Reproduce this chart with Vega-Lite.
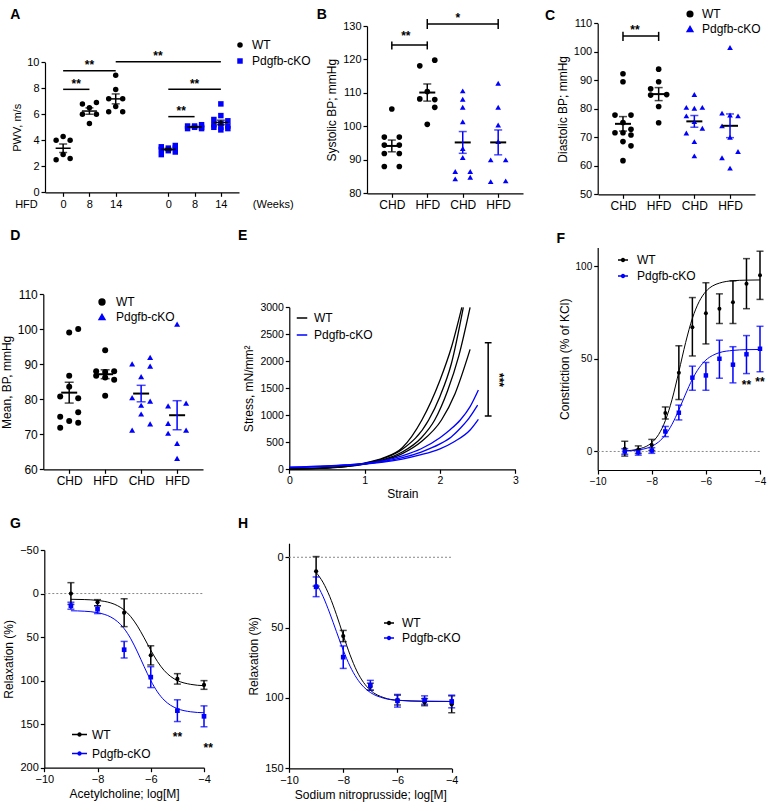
{
"$schema": "https://vega.github.io/schema/vega-lite/v6.json",
"width": 768, "height": 811, "autosize": {"type": "none"}, "padding": 0, "background": "white",
"config": {
  "font": "Liberation Sans",
  "view": {"stroke": null},
  "axis": {"grid": false, "domainColor": "#000", "tickColor": "#000", "labelColor": "#000", "titleColor": "#000", "labelFontSize": 11, "titleFontSize": 12, "titleFontWeight": "normal", "domainWidth": 1.2, "tickWidth": 1.2, "tickSize": 4, "labelPadding": 2, "labelFlush": false, "labelFont": "Liberation Sans", "titleFont": "Liberation Sans"},
  "legend": {"labelFont": "Liberation Sans", "labelFontSize": 12, "padding": 0, "labelColor": "#000"}
},
"datasets": {
  "A": [
    {"grp":"WT0","g":"WT","v":4.3,"col":0},{"grp":"WT0","g":"WT","v":4.0,"col":-1},{"grp":"WT0","g":"WT","v":4.0,"col":1},{"grp":"WT0","g":"WT","v":2.9,"col":0},{"grp":"WT0","g":"WT","v":2.5,"col":-1},{"grp":"WT0","g":"WT","v":2.6,"col":1},
    {"grp":"WT8","g":"WT","v":6.8,"col":-1},{"grp":"WT8","g":"WT","v":6.9,"col":1},{"grp":"WT8","g":"WT","v":6.5,"col":0},{"grp":"WT8","g":"WT","v":6.0,"col":-1},{"grp":"WT8","g":"WT","v":6.0,"col":1},{"grp":"WT8","g":"WT","v":5.3,"col":0},
    {"grp":"WT14","g":"WT","v":9.0,"col":0},{"grp":"WT14","g":"WT","v":7.9,"col":0},{"grp":"WT14","g":"WT","v":7.2,"col":-1},{"grp":"WT14","g":"WT","v":7.2,"col":1},{"grp":"WT14","g":"WT","v":6.6,"col":0},{"grp":"WT14","g":"WT","v":6.2,"col":-1},{"grp":"WT14","g":"WT","v":6.2,"col":1},
    {"grp":"KO0","g":"Pdgfb-cKO","v":3.6,"col":1},{"grp":"KO0","g":"Pdgfb-cKO","v":3.5,"col":-1},{"grp":"KO0","g":"Pdgfb-cKO","v":3.4,"col":0},{"grp":"KO0","g":"Pdgfb-cKO","v":3.4,"col":1},{"grp":"KO0","g":"Pdgfb-cKO","v":3.3,"col":-1},{"grp":"KO0","g":"Pdgfb-cKO","v":3.2,"col":0},{"grp":"KO0","g":"Pdgfb-cKO","v":3.1,"col":1},{"grp":"KO0","g":"Pdgfb-cKO","v":2.9,"col":-1},
    {"grp":"KO8","g":"Pdgfb-cKO","v":5.2,"col":1},{"grp":"KO8","g":"Pdgfb-cKO","v":5.1,"col":-1},{"grp":"KO8","g":"Pdgfb-cKO","v":5.0,"col":0},{"grp":"KO8","g":"Pdgfb-cKO","v":5.0,"col":1},{"grp":"KO8","g":"Pdgfb-cKO","v":4.9,"col":-1},{"grp":"KO8","g":"Pdgfb-cKO","v":5.1,"col":0},{"grp":"KO8","g":"Pdgfb-cKO","v":4.9,"col":1},
    {"grp":"KO14","g":"Pdgfb-cKO","v":6.8,"col":0},{"grp":"KO14","g":"Pdgfb-cKO","v":5.9,"col":0},{"grp":"KO14","g":"Pdgfb-cKO","v":5.6,"col":-1},{"grp":"KO14","g":"Pdgfb-cKO","v":5.5,"col":1},{"grp":"KO14","g":"Pdgfb-cKO","v":5.3,"col":0},{"grp":"KO14","g":"Pdgfb-cKO","v":5.2,"col":-1},{"grp":"KO14","g":"Pdgfb-cKO","v":5.1,"col":1},{"grp":"KO14","g":"Pdgfb-cKO","v":5.0,"col":0},{"grp":"KO14","g":"Pdgfb-cKO","v":5.0,"col":-1},{"grp":"KO14","g":"Pdgfb-cKO","v":4.9,"col":1},{"grp":"KO14","g":"Pdgfb-cKO","v":4.8,"col":0}
  ],
  "B": [
    {"grp":"WT CHD","g":"WT","v":105.2,"col":0},{"grp":"WT CHD","g":"WT","v":96.8,"col":-1},{"grp":"WT CHD","g":"WT","v":96.8,"col":1},{"grp":"WT CHD","g":"WT","v":94.4,"col":-1},{"grp":"WT CHD","g":"WT","v":94.4,"col":1},{"grp":"WT CHD","g":"WT","v":91.9,"col":-1},{"grp":"WT CHD","g":"WT","v":91.9,"col":1},{"grp":"WT CHD","g":"WT","v":88.0,"col":-1},{"grp":"WT CHD","g":"WT","v":88.0,"col":1},
    {"grp":"WT HFD","g":"WT","v":118.1,"col":-1},{"grp":"WT HFD","g":"WT","v":119.8,"col":1},{"grp":"WT HFD","g":"WT","v":110.4,"col":0},{"grp":"WT HFD","g":"WT","v":108.2,"col":-1},{"grp":"WT HFD","g":"WT","v":108.0,"col":1},{"grp":"WT HFD","g":"WT","v":105.7,"col":1},{"grp":"WT HFD","g":"WT","v":100.6,"col":0},
    {"grp":"KO CHD","g":"Pdgfb-cKO","v":110.6,"col":0},{"grp":"KO CHD","g":"Pdgfb-cKO","v":108.1,"col":0},{"grp":"KO CHD","g":"Pdgfb-cKO","v":105.7,"col":0},{"grp":"KO CHD","g":"Pdgfb-cKO","v":101.4,"col":0},{"grp":"KO CHD","g":"Pdgfb-cKO","v":93.4,"col":0},{"grp":"KO CHD","g":"Pdgfb-cKO","v":90.7,"col":0},{"grp":"KO CHD","g":"Pdgfb-cKO","v":86.5,"col":-1},{"grp":"KO CHD","g":"Pdgfb-cKO","v":86.5,"col":1},{"grp":"KO CHD","g":"Pdgfb-cKO","v":84.3,"col":-1},{"grp":"KO CHD","g":"Pdgfb-cKO","v":84.8,"col":1},
    {"grp":"KO HFD","g":"Pdgfb-cKO","v":112.9,"col":0},{"grp":"KO HFD","g":"Pdgfb-cKO","v":105.7,"col":0},{"grp":"KO HFD","g":"Pdgfb-cKO","v":100.4,"col":0},{"grp":"KO HFD","g":"Pdgfb-cKO","v":95.5,"col":0},{"grp":"KO HFD","g":"Pdgfb-cKO","v":90.0,"col":-1},{"grp":"KO HFD","g":"Pdgfb-cKO","v":90.0,"col":1},{"grp":"KO HFD","g":"Pdgfb-cKO","v":83.5,"col":-1},{"grp":"KO HFD","g":"Pdgfb-cKO","v":83.7,"col":1}
  ],
  "C": [
    {"grp":"WT CHD","g":"WT","v":92.3,"col":0},{"grp":"WT CHD","g":"WT","v":89.5,"col":0},{"grp":"WT CHD","g":"WT","v":77.8,"col":-1},{"grp":"WT CHD","g":"WT","v":77.8,"col":1},{"grp":"WT CHD","g":"WT","v":75.2,"col":0},{"grp":"WT CHD","g":"WT","v":72.8,"col":1},{"grp":"WT CHD","g":"WT","v":71.6,"col":-1},{"grp":"WT CHD","g":"WT","v":71.6,"col":0},{"grp":"WT CHD","g":"WT","v":70.8,"col":1},{"grp":"WT CHD","g":"WT","v":68.5,"col":0},{"grp":"WT CHD","g":"WT","v":67.0,"col":1},{"grp":"WT CHD","g":"WT","v":61.8,"col":0},
    {"grp":"WT HFD","g":"WT","v":93.9,"col":0},{"grp":"WT HFD","g":"WT","v":89.5,"col":0},{"grp":"WT HFD","g":"WT","v":87.0,"col":-1},{"grp":"WT HFD","g":"WT","v":85.0,"col":1},{"grp":"WT HFD","g":"WT","v":84.8,"col":-1},{"grp":"WT HFD","g":"WT","v":80.8,"col":0},{"grp":"WT HFD","g":"WT","v":75.1,"col":0},
    {"grp":"KO CHD","g":"Pdgfb-cKO","v":85.0,"col":0},{"grp":"KO CHD","g":"Pdgfb-cKO","v":80.5,"col":-1},{"grp":"KO CHD","g":"Pdgfb-cKO","v":80.2,"col":0},{"grp":"KO CHD","g":"Pdgfb-cKO","v":80.5,"col":1},{"grp":"KO CHD","g":"Pdgfb-cKO","v":77.5,"col":-1},{"grp":"KO CHD","g":"Pdgfb-cKO","v":75.5,"col":0},{"grp":"KO CHD","g":"Pdgfb-cKO","v":73.2,"col":1},{"grp":"KO CHD","g":"Pdgfb-cKO","v":71.5,"col":-1},{"grp":"KO CHD","g":"Pdgfb-cKO","v":68.5,"col":0},{"grp":"KO CHD","g":"Pdgfb-cKO","v":63.5,"col":0},
    {"grp":"KO HFD","g":"Pdgfb-cKO","v":101.5,"col":0},{"grp":"KO HFD","g":"Pdgfb-cKO","v":78.5,"col":-1},{"grp":"KO HFD","g":"Pdgfb-cKO","v":77.8,"col":0},{"grp":"KO HFD","g":"Pdgfb-cKO","v":77.5,"col":1},{"grp":"KO HFD","g":"Pdgfb-cKO","v":74.0,"col":-1},{"grp":"KO HFD","g":"Pdgfb-cKO","v":70.0,"col":0},{"grp":"KO HFD","g":"Pdgfb-cKO","v":65.0,"col":1},{"grp":"KO HFD","g":"Pdgfb-cKO","v":62.8,"col":-1},{"grp":"KO HFD","g":"Pdgfb-cKO","v":59.2,"col":0}
  ],
  "D": [
    {"grp":"WT CHD","g":"WT","v":100.1,"col":1},{"grp":"WT CHD","g":"WT","v":99.1,"col":0},{"grp":"WT CHD","g":"WT","v":86.7,"col":0},{"grp":"WT CHD","g":"WT","v":83.6,"col":0},{"grp":"WT CHD","g":"WT","v":80.8,"col":-1},{"grp":"WT CHD","g":"WT","v":80.3,"col":1},{"grp":"WT CHD","g":"WT","v":76.3,"col":1},{"grp":"WT CHD","g":"WT","v":75.0,"col":-1},{"grp":"WT CHD","g":"WT","v":73.8,"col":0},{"grp":"WT CHD","g":"WT","v":73.3,"col":1},{"grp":"WT CHD","g":"WT","v":71.9,"col":-1},
    {"grp":"WT HFD","g":"WT","v":94.0,"col":0},{"grp":"WT HFD","g":"WT","v":88.0,"col":-1},{"grp":"WT HFD","g":"WT","v":88.0,"col":1},{"grp":"WT HFD","g":"WT","v":87.8,"col":0},{"grp":"WT HFD","g":"WT","v":86.7,"col":-1},{"grp":"WT HFD","g":"WT","v":86.2,"col":0},{"grp":"WT HFD","g":"WT","v":85.6,"col":1},{"grp":"WT HFD","g":"WT","v":81.0,"col":0},
    {"grp":"KO CHD","g":"Pdgfb-cKO","v":92.0,"col":1},{"grp":"KO CHD","g":"Pdgfb-cKO","v":90.1,"col":-1},{"grp":"KO CHD","g":"Pdgfb-cKO","v":89.5,"col":1},{"grp":"KO CHD","g":"Pdgfb-cKO","v":86.5,"col":0},{"grp":"KO CHD","g":"Pdgfb-cKO","v":80.5,"col":-1},{"grp":"KO CHD","g":"Pdgfb-cKO","v":79.5,"col":1},{"grp":"KO CHD","g":"Pdgfb-cKO","v":78.3,"col":0},{"grp":"KO CHD","g":"Pdgfb-cKO","v":75.8,"col":0},{"grp":"KO CHD","g":"Pdgfb-cKO","v":73.0,"col":1},{"grp":"KO CHD","g":"Pdgfb-cKO","v":71.2,"col":-1},
    {"grp":"KO HFD","g":"Pdgfb-cKO","v":101.5,"col":0},{"grp":"KO HFD","g":"Pdgfb-cKO","v":78.9,"col":1},{"grp":"KO HFD","g":"Pdgfb-cKO","v":78.1,"col":-1},{"grp":"KO HFD","g":"Pdgfb-cKO","v":73.1,"col":-1},{"grp":"KO HFD","g":"Pdgfb-cKO","v":71.2,"col":1},{"grp":"KO HFD","g":"Pdgfb-cKO","v":70.3,"col":-1},{"grp":"KO HFD","g":"Pdgfb-cKO","v":67.4,"col":0},{"grp":"KO HFD","g":"Pdgfb-cKO","v":63.1,"col":0}
  ],
  "E": [
    {"id":"w1","g":"WT","s":0,"t":5},{"id":"w1","g":"WT","s":0.5,"t":30},{"id":"w1","g":"WT","s":0.75,"t":60},{"id":"w1","g":"WT","s":1,"t":115},{"id":"w1","g":"WT","s":1.25,"t":210},{"id":"w1","g":"WT","s":1.5,"t":400},{"id":"w1","g":"WT","s":1.76,"t":913},{"id":"w1","g":"WT","s":2,"t":1650},{"id":"w1","g":"WT","s":2.15,"t":2250},{"id":"w1","g":"WT","s":2.29,"t":3000},
    {"id":"w2","g":"WT","s":0,"t":5},{"id":"w2","g":"WT","s":0.5,"t":28},{"id":"w2","g":"WT","s":0.75,"t":58},{"id":"w2","g":"WT","s":1,"t":110},{"id":"w2","g":"WT","s":1.25,"t":200},{"id":"w2","g":"WT","s":1.5,"t":370},{"id":"w2","g":"WT","s":1.85,"t":913},{"id":"w2","g":"WT","s":2,"t":1350},{"id":"w2","g":"WT","s":2.15,"t":1950},{"id":"w2","g":"WT","s":2.31,"t":3000},
    {"id":"w3","g":"WT","s":0,"t":3},{"id":"w3","g":"WT","s":0.5,"t":25},{"id":"w3","g":"WT","s":0.75,"t":52},{"id":"w3","g":"WT","s":1,"t":100},{"id":"w3","g":"WT","s":1.25,"t":180},{"id":"w3","g":"WT","s":1.5,"t":320},{"id":"w3","g":"WT","s":1.75,"t":580},{"id":"w3","g":"WT","s":1.93,"t":913},{"id":"w3","g":"WT","s":2.1,"t":1450},{"id":"w3","g":"WT","s":2.25,"t":2100},{"id":"w3","g":"WT","s":2.4,"t":3000},
    {"id":"w4","g":"WT","s":0,"t":3},{"id":"w4","g":"WT","s":0.5,"t":22},{"id":"w4","g":"WT","s":0.75,"t":48},{"id":"w4","g":"WT","s":1,"t":95},{"id":"w4","g":"WT","s":1.25,"t":165},{"id":"w4","g":"WT","s":1.5,"t":290},{"id":"w4","g":"WT","s":1.75,"t":510},{"id":"w4","g":"WT","s":2.02,"t":913},{"id":"w4","g":"WT","s":2.2,"t":1400},{"id":"w4","g":"WT","s":2.4,"t":2220},
    {"id":"k1","g":"Pdgfb-cKO","s":0,"t":40},{"id":"k1","g":"Pdgfb-cKO","s":0.5,"t":62},{"id":"k1","g":"Pdgfb-cKO","s":0.75,"t":82},{"id":"k1","g":"Pdgfb-cKO","s":1,"t":108},{"id":"k1","g":"Pdgfb-cKO","s":1.25,"t":160},{"id":"k1","g":"Pdgfb-cKO","s":1.5,"t":250},{"id":"k1","g":"Pdgfb-cKO","s":1.75,"t":380},{"id":"k1","g":"Pdgfb-cKO","s":2,"t":585},{"id":"k1","g":"Pdgfb-cKO","s":2.13,"t":728},{"id":"k1","g":"Pdgfb-cKO","s":2.27,"t":913},{"id":"k1","g":"Pdgfb-cKO","s":2.4,"t":1160},{"id":"k1","g":"Pdgfb-cKO","s":2.51,"t":1469},
    {"id":"k2","g":"Pdgfb-cKO","s":0,"t":35},{"id":"k2","g":"Pdgfb-cKO","s":0.5,"t":58},{"id":"k2","g":"Pdgfb-cKO","s":0.75,"t":78},{"id":"k2","g":"Pdgfb-cKO","s":1,"t":102},{"id":"k2","g":"Pdgfb-cKO","s":1.25,"t":145},{"id":"k2","g":"Pdgfb-cKO","s":1.5,"t":215},{"id":"k2","g":"Pdgfb-cKO","s":1.75,"t":320},{"id":"k2","g":"Pdgfb-cKO","s":2,"t":470},{"id":"k2","g":"Pdgfb-cKO","s":2.15,"t":600},{"id":"k2","g":"Pdgfb-cKO","s":2.27,"t":760},{"id":"k2","g":"Pdgfb-cKO","s":2.36,"t":900},{"id":"k2","g":"Pdgfb-cKO","s":2.5,"t":1190},
    {"id":"k3","g":"Pdgfb-cKO","s":0,"t":30},{"id":"k3","g":"Pdgfb-cKO","s":0.5,"t":55},{"id":"k3","g":"Pdgfb-cKO","s":0.75,"t":75},{"id":"k3","g":"Pdgfb-cKO","s":1,"t":98},{"id":"k3","g":"Pdgfb-cKO","s":1.25,"t":135},{"id":"k3","g":"Pdgfb-cKO","s":1.5,"t":190},{"id":"k3","g":"Pdgfb-cKO","s":1.75,"t":270},{"id":"k3","g":"Pdgfb-cKO","s":2,"t":380},{"id":"k3","g":"Pdgfb-cKO","s":2.2,"t":520},{"id":"k3","g":"Pdgfb-cKO","s":2.4,"t":728},{"id":"k3","g":"Pdgfb-cKO","s":2.51,"t":926}
  ],
  "Fc": [
    {"g":"WT","x":-9,"y":0.3},{"g":"WT","x":-8.5,"y":1.3},{"g":"WT","x":-8,"y":4.8},{"g":"WT","x":-7.75,"y":9.1},{"g":"WT","x":-7.5,"y":16.6},{"g":"WT","x":-7.25,"y":28.1},{"g":"WT","x":-7,"y":43.0},{"g":"WT","x":-6.75,"y":58.7},{"g":"WT","x":-6.5,"y":71.8},{"g":"WT","x":-6.25,"y":80.8},{"g":"WT","x":-6,"y":86.3},{"g":"WT","x":-5.75,"y":89.3},{"g":"WT","x":-5.5,"y":90.8},{"g":"WT","x":-5,"y":92.1},{"g":"WT","x":-4.5,"y":92.4},{"g":"WT","x":-4,"y":92.5},
    {"g":"Pdgfb-cKO","x":-9,"y":0.2},{"g":"Pdgfb-cKO","x":-8.5,"y":0.8},{"g":"Pdgfb-cKO","x":-8,"y":2.8},{"g":"Pdgfb-cKO","x":-7.75,"y":5.1},{"g":"Pdgfb-cKO","x":-7.5,"y":8.9},{"g":"Pdgfb-cKO","x":-7.25,"y":14.7},{"g":"Pdgfb-cKO","x":-7,"y":22.4},{"g":"Pdgfb-cKO","x":-6.75,"y":31.0},{"g":"Pdgfb-cKO","x":-6.5,"y":39.0},{"g":"Pdgfb-cKO","x":-6.25,"y":45.1},{"g":"Pdgfb-cKO","x":-6,"y":49.3},{"g":"Pdgfb-cKO","x":-5.75,"y":51.8},{"g":"Pdgfb-cKO","x":-5.5,"y":53.3},{"g":"Pdgfb-cKO","x":-5,"y":54.5},{"g":"Pdgfb-cKO","x":-4.5,"y":54.9},{"g":"Pdgfb-cKO","x":-4,"y":55.0}
  ],
  "Fp": [
    {"g":"WT","x":-9,"m":1.5,"lo":-2.5,"hi":5.5},{"g":"WT","x":-8.5,"m":1,"lo":-1,"hi":3},{"g":"WT","x":-8,"m":3.5,"lo":0.5,"hi":6.5},{"g":"WT","x":-7.5,"m":20.7,"lo":17.5,"hi":24},{"g":"WT","x":-7,"m":42.5,"lo":28,"hi":57},{"g":"WT","x":-6.5,"m":67,"lo":51.5,"hi":83},{"g":"WT","x":-6,"m":74.5,"lo":58,"hi":91},{"g":"WT","x":-5.5,"m":77,"lo":69,"hi":85},{"g":"WT","x":-5,"m":80.5,"lo":69,"hi":92},{"g":"WT","x":-4.5,"m":90.5,"lo":77,"hi":104},{"g":"WT","x":-4,"m":95,"lo":82,"hi":108},
    {"g":"Pdgfb-cKO","x":-9,"m":0,"lo":-1.5,"hi":1.5},{"g":"Pdgfb-cKO","x":-8.5,"m":-0.5,"lo":-2,"hi":1},{"g":"Pdgfb-cKO","x":-8,"m":0.5,"lo":-1,"hi":2},{"g":"Pdgfb-cKO","x":-7.5,"m":10.8,"lo":8,"hi":13.5},{"g":"Pdgfb-cKO","x":-7,"m":20.9,"lo":17,"hi":25},{"g":"Pdgfb-cKO","x":-6.5,"m":39.8,"lo":33,"hi":46},{"g":"Pdgfb-cKO","x":-6,"m":41,"lo":33,"hi":48},{"g":"Pdgfb-cKO","x":-5.5,"m":50,"lo":39.5,"hi":60},{"g":"Pdgfb-cKO","x":-5,"m":46.8,"lo":37,"hi":56.5},{"g":"Pdgfb-cKO","x":-4.5,"m":52.4,"lo":42,"hi":62.5},{"g":"Pdgfb-cKO","x":-4,"m":55.4,"lo":43,"hi":67.5}
  ],
  "Gc": [
    {"g":"WT","x":-9,"y":6.6},{"g":"WT","x":-8.5,"y":6.9},{"g":"WT","x":-8,"y":7.9},{"g":"WT","x":-7.5,"y":10.8},{"g":"WT","x":-7.25,"y":13.9},{"g":"WT","x":-7,"y":18.9},{"g":"WT","x":-6.75,"y":26.6},{"g":"WT","x":-6.5,"y":37.4},{"g":"WT","x":-6.25,"y":50.8},{"g":"WT","x":-6,"y":65.0},{"g":"WT","x":-5.75,"y":78.0},{"g":"WT","x":-5.5,"y":88.2},{"g":"WT","x":-5.25,"y":95.3},{"g":"WT","x":-5,"y":99.9},{"g":"WT","x":-4.5,"y":104.3},{"g":"WT","x":-4,"y":105.8},
    {"g":"Pdgfb-cKO","x":-9,"y":19.8},{"g":"Pdgfb-cKO","x":-8.5,"y":20.3},{"g":"Pdgfb-cKO","x":-8,"y":22.0},{"g":"Pdgfb-cKO","x":-7.5,"y":27.0},{"g":"Pdgfb-cKO","x":-7.25,"y":32.2},{"g":"Pdgfb-cKO","x":-7,"y":40.3},{"g":"Pdgfb-cKO","x":-6.75,"y":52.0},{"g":"Pdgfb-cKO","x":-6.5,"y":67.1},{"g":"Pdgfb-cKO","x":-6.25,"y":83.9},{"g":"Pdgfb-cKO","x":-6,"y":99.9},{"g":"Pdgfb-cKO","x":-5.75,"y":112.9},{"g":"Pdgfb-cKO","x":-5.5,"y":122.3},{"g":"Pdgfb-cKO","x":-5.25,"y":128.4},{"g":"Pdgfb-cKO","x":-5,"y":132.2},{"g":"Pdgfb-cKO","x":-4.5,"y":135.8},{"g":"Pdgfb-cKO","x":-4,"y":136.9}
  ],
  "Gp": [
    {"g":"WT","x":-9,"m":0,"lo":-12.5,"hi":12.5},{"g":"WT","x":-8,"m":10,"lo":7,"hi":14},{"g":"WT","x":-7,"m":22,"lo":6,"hi":38},{"g":"WT","x":-6,"m":71,"lo":60,"hi":82},{"g":"WT","x":-5,"m":98,"lo":92,"hi":104},{"g":"WT","x":-4,"m":105,"lo":100,"hi":110},
    {"g":"Pdgfb-cKO","x":-9,"m":14,"lo":10,"hi":18},{"g":"Pdgfb-cKO","x":-8,"m":18,"lo":14,"hi":23},{"g":"Pdgfb-cKO","x":-7,"m":64.5,"lo":55,"hi":74},{"g":"Pdgfb-cKO","x":-6,"m":96,"lo":84,"hi":108},{"g":"Pdgfb-cKO","x":-5,"m":134.5,"lo":122,"hi":147},{"g":"Pdgfb-cKO","x":-4,"m":141,"lo":129,"hi":153}
  ],
  "Hc": [
    {"g":"WT","x":-9,"y":10.8},{"g":"WT","x":-8.75,"y":17.7},{"g":"WT","x":-8.5,"y":27.8},{"g":"WT","x":-8.25,"y":40.8},{"g":"WT","x":-8,"y":55.4},{"g":"WT","x":-7.75,"y":69.3},{"g":"WT","x":-7.5,"y":80.8},{"g":"WT","x":-7.25,"y":89.0},{"g":"WT","x":-7,"y":94.5},{"g":"WT","x":-6.5,"y":99.8},{"g":"WT","x":-6,"y":101.6},{"g":"WT","x":-5,"y":102.4},{"g":"WT","x":-4,"y":102.5},
    {"g":"Pdgfb-cKO","x":-9,"y":18.3},{"g":"Pdgfb-cKO","x":-8.75,"y":27.6},{"g":"Pdgfb-cKO","x":-8.5,"y":39.6},{"g":"Pdgfb-cKO","x":-8.25,"y":52.9},{"g":"Pdgfb-cKO","x":-8,"y":66.0},{"g":"Pdgfb-cKO","x":-7.75,"y":77.4},{"g":"Pdgfb-cKO","x":-7.5,"y":86.0},{"g":"Pdgfb-cKO","x":-7.25,"y":92.1},{"g":"Pdgfb-cKO","x":-7,"y":96.1},{"g":"Pdgfb-cKO","x":-6.5,"y":100.2},{"g":"Pdgfb-cKO","x":-6,"y":101.7},{"g":"Pdgfb-cKO","x":-5,"y":102.3},{"g":"Pdgfb-cKO","x":-4,"y":102.5}
  ],
  "Hp": [
    {"g":"WT","x":-9,"m":10,"lo":-0.5,"hi":20.5},{"g":"WT","x":-8,"m":56,"lo":52,"hi":60},{"g":"WT","x":-7,"m":92,"lo":89.5,"hi":94.5},{"g":"WT","x":-6,"m":101.5,"lo":98,"hi":105},{"g":"WT","x":-5,"m":103,"lo":100.5,"hi":105.5},{"g":"WT","x":-4,"m":104.5,"lo":98.5,"hi":110.5},
    {"g":"Pdgfb-cKO","x":-9,"m":21,"lo":14,"hi":28},{"g":"Pdgfb-cKO","x":-8,"m":71,"lo":63,"hi":79},{"g":"Pdgfb-cKO","x":-7,"m":91,"lo":87.5,"hi":94.5},{"g":"Pdgfb-cKO","x":-6,"m":102,"lo":97.5,"hi":106.5},{"g":"Pdgfb-cKO","x":-5,"m":101.5,"lo":98.5,"hi":104.5},{"g":"Pdgfb-cKO","x":-4,"m":102.5,"lo":98,"hi":107}
  ]
},
"layer": [
  {"layer": [
    {"data": {"name": "A"},
     "mark": {"type": "point", "filled": true, "size": 30, "opacity": 1, "strokeWidth": 0},
     "encoding": {
       "x": {"field": "grp", "type": "nominal", "scale": {"type": "point", "domain": ["WT0","WT8","WT14","gap","KO0","KO8","KO14"], "range": [45, 239], "padding": 0.69},
             "axis": {"orient": "bottom", "offset": -618.7, "values": ["WT0","WT8","WT14","KO0","KO8","KO14"], "labelExpr": "slice(datum.value, 2)", "title": null, "labelAngle": 0, "labelFontSize": 11}},
       "y": {"field": "v", "type": "quantitative", "title": "PWV, m/s", "scale": {"domain": [0, 10], "range": [192.3, 62.3], "nice": false, "zero": false},
             "axis": {"orient": "left", "offset": -45, "values": [0,2,4,6,8,10], "format": "d", "title": "PWV, m/s", "labelFontSize": 11, "titleFontSize": 11}},
       "xOffset": {"field": "col", "type": "quantitative", "scale": {"domain": [-1, 1], "range": [-7, 7]}},
       "color": {"field": "g", "type": "nominal", "scale": {"domain": ["WT","Pdgfb-cKO"], "range": ["#000000","#0000ff"]},
                 "legend": {"orient": "none", "legendX": 234, "legendY": 39, "title": null, "labelFontSize": 12, "symbolSize": 30, "rowPadding": 4, "labelOffset": 6}},
       "shape": {"field": "g", "type": "nominal", "scale": {"domain": ["WT","Pdgfb-cKO"], "range": ["circle","square"]},
                 "legend": {"orient": "none", "legendX": 234, "legendY": 39, "title": null, "labelFontSize": 12, "symbolSize": 30, "rowPadding": 4, "labelOffset": 6}}
     }},
    {"data": {"name": "A"}, "mark": {"type": "tick", "size": 15, "thickness": 1.5, "color": "#000"},
     "encoding": {"x": {"field": "grp", "type": "nominal"}, "y": {"aggregate": "mean", "field": "v", "type": "quantitative", "title": "PWV, m/s"}}},
    {"data": {"name": "A"}, "mark": {"type": "errorbar", "extent": "stderr", "color": "#000", "thickness": 1.5, "ticks": {"size": 8}},
     "encoding": {"x": {"field": "grp", "type": "nominal", "title": null}, "y": {"field": "v", "type": "quantitative", "title": "PWV, m/s"}}},
    {"data": {"values": [
       {"x1":"WT0","x2":"WT8","y1":7.92,"y2":7.92},{"x1":"WT0","x2":"WT14","y1":9.35,"y2":9.35},{"x1":"WT14","x2":"KO14","y1":10.05,"y2":10.05},{"x1":"KO0","x2":"KO8","y1":5.82,"y2":5.82},{"x1":"KO0","x2":"KO14","y1":7.92,"y2":7.92}]},
     "mark": {"type": "rule", "color": "#000", "strokeWidth": 1.5},
     "encoding": {"x": {"field": "x1", "type": "nominal"}, "x2": {"field": "x2"}, "y": {"field": "y1", "type": "quantitative"}, "y2": {"field": "y2"}}},
    {"data": {"values": [{"x":"WT0","y":8.05},{"x":"KO0","y":5.92}]},
     "mark": {"type": "text", "text": "**", "fontSize": 12, "fontWeight": "bold", "align": "center", "baseline": "alphabetic", "dx": 13},
     "encoding": {"x": {"field": "x", "type": "nominal"}, "y": {"field": "y", "type": "quantitative"}}},
    {"data": {"values": [{"x":"WT8","y":9.51},{"x":"KO8","y":8.05}]},
     "mark": {"type": "text", "text": "**", "fontSize": 12, "fontWeight": "bold", "align": "center", "baseline": "alphabetic"},
     "encoding": {"x": {"field": "x", "type": "nominal"}, "y": {"field": "y", "type": "quantitative"}}},
    {"data": {"values": [{"x":"gap","y":10.15}]},
     "mark": {"type": "text", "text": "**", "fontSize": 12, "fontWeight": "bold", "align": "center", "baseline": "alphabetic", "dx": 16},
     "encoding": {"x": {"field": "x", "type": "nominal"}, "y": {"field": "y", "type": "quantitative"}}},
    {"data": {"values": [{"x":"WT0","y":-1.22}]},
     "mark": {"type": "text", "text": "HFD", "fontSize": 11, "align": "left", "baseline": "alphabetic", "dx": -48},
     "encoding": {"x": {"field": "x", "type": "nominal"}, "y": {"field": "y", "type": "quantitative"}}},
    {"data": {"values": [{"x":"KO14","y":-1.22}]},
     "mark": {"type": "text", "text": "(Weeks)", "fontSize": 11, "align": "left", "baseline": "alphabetic", "dx": 32},
     "encoding": {"x": {"field": "x", "type": "nominal"}, "y": {"field": "y", "type": "quantitative"}}},
    {"data": {"values": [{"x":"WT0","y":13.33}]},
     "mark": {"type": "text", "text": "A", "fontSize": 14, "fontWeight": "bold", "align": "left", "baseline": "alphabetic", "dx": -53},
     "encoding": {"x": {"field": "x", "type": "nominal"}, "y": {"field": "y", "type": "quantitative"}}}
  ]},
  {"layer": [
    {"data": {"name": "B"},
     "mark": {"type": "point", "filled": true, "size": 32, "opacity": 1, "strokeWidth": 0},
     "encoding": {
       "x": {"field": "grp", "type": "nominal", "scale": {"type": "point", "domain": ["WT CHD","WT HFD","KO CHD","KO HFD"], "range": [367, 523], "padding": 0.7},
             "axis": {"orient": "bottom", "offset": -617.7, "labelExpr": "slice(datum.value, 3)", "title": null, "labelAngle": 0, "labelFontSize": 12}},
       "y": {"field": "v", "type": "quantitative", "title": "Systolic BP; mmHg", "scale": {"domain": [80, 130], "range": [193.3, 26], "nice": false, "zero": false},
             "axis": {"orient": "left", "offset": -367, "values": [80,90,100,110,120,130], "format": "d", "title": "Systolic BP; mmHg", "labelFontSize": 11}},
       "xOffset": {"field": "col", "type": "quantitative", "scale": {"domain": [-1, 1], "range": [-7.5, 7.5]}},
       "color": {"field": "g", "type": "nominal", "scale": {"domain": ["WT","Pdgfb-cKO"], "range": ["#000000","#0000ff"]}, "legend": null},
       "shape": {"field": "g", "type": "nominal", "scale": {"domain": ["WT","Pdgfb-cKO"], "range": ["circle","triangle-up"]}, "legend": null}
     }},
    {"data": {"name": "B"}, "mark": {"type": "tick", "size": 16, "thickness": 2, "color": "#000"},
     "encoding": {"x": {"field": "grp", "type": "nominal"}, "y": {"aggregate": "mean", "field": "v", "type": "quantitative", "title": "Systolic BP; mmHg"}}},
    {"data": {"name": "B"}, "mark": {"type": "errorbar", "extent": "stderr", "thickness": 1.5, "ticks": {"size": 8}},
     "encoding": {"x": {"field": "grp", "type": "nominal", "title": null}, "y": {"field": "v", "type": "quantitative", "title": "Systolic BP; mmHg"}, "color": {"field": "g", "type": "nominal", "legend": null}}},
    {"data": {"values": [
       {"x1":"WT CHD","x2":"WT HFD","y1":124.3,"y2":124.3},{"x1":"WT CHD","x2":"WT CHD","y1":125.4,"y2":123.0},{"x1":"WT HFD","x2":"WT HFD","y1":125.4,"y2":123.0},
       {"x1":"WT HFD","x2":"KO HFD","y1":130.6,"y2":130.6},{"x1":"WT HFD","x2":"WT HFD","y1":132.1,"y2":129.1},{"x1":"KO HFD","x2":"KO HFD","y1":132.1,"y2":129.1}]},
     "mark": {"type": "rule", "color": "#000", "strokeWidth": 1.5},
     "encoding": {"x": {"field": "x1", "type": "nominal"}, "x2": {"field": "x2"}, "y": {"field": "y1", "type": "quantitative"}, "y2": {"field": "y2"}}},
    {"data": {"values": [{"x":"WT CHD","y":125.7}]},
     "mark": {"type": "text", "text": "**", "fontSize": 12, "fontWeight": "bold", "align": "center", "baseline": "alphabetic", "dx": 14},
     "encoding": {"x": {"field": "x", "type": "nominal"}, "y": {"field": "y", "type": "quantitative"}}},
    {"data": {"values": [{"x":"KO CHD","y":131.2}]},
     "mark": {"type": "text", "text": "*", "fontSize": 12, "fontWeight": "bold", "align": "center", "baseline": "alphabetic", "dx": -5},
     "encoding": {"x": {"field": "x", "type": "nominal"}, "y": {"field": "y", "type": "quantitative"}}},
    {"data": {"values": [{"x":"WT CHD","y":132.0}]},
     "mark": {"type": "text", "text": "B", "fontSize": 14, "fontWeight": "bold", "align": "left", "baseline": "alphabetic", "dx": -75},
     "encoding": {"x": {"field": "x", "type": "nominal"}, "y": {"field": "y", "type": "quantitative"}}}
  ]},
  {"layer": [
    {"data": {"name": "C"},
     "mark": {"type": "point", "filled": true, "size": 32, "opacity": 1, "strokeWidth": 0},
     "encoding": {
       "x": {"field": "grp", "type": "nominal", "scale": {"type": "point", "domain": ["WT CHD","WT HFD","KO CHD","KO HFD"], "range": [598, 755], "padding": 0.7},
             "axis": {"orient": "bottom", "offset": -616.7, "labelExpr": "slice(datum.value, 3)", "title": null, "labelAngle": 0, "labelFontSize": 12}},
       "y": {"field": "v", "type": "quantitative", "title": "Diastolic BP; mmHg", "scale": {"domain": [50, 110], "range": [194.3, 23.3], "nice": false, "zero": false},
             "axis": {"orient": "left", "offset": -597.7, "values": [50,60,70,80,90,100,110], "format": "d", "title": "Diastolic BP; mmHg", "labelFontSize": 11}},
       "xOffset": {"field": "col", "type": "quantitative", "scale": {"domain": [-1, 1], "range": [-8, 8]}},
       "color": {"field": "g", "type": "nominal", "scale": {"domain": ["WT","Pdgfb-cKO"], "range": ["#000000","#0000ff"]},
                 "legend": {"orient": "none", "legendX": 684, "legendY": 8, "title": null, "labelFontSize": 12, "symbolSize": 32, "rowPadding": 3, "labelOffset": 6}},
       "shape": {"field": "g", "type": "nominal", "scale": {"domain": ["WT","Pdgfb-cKO"], "range": ["circle","triangle-up"]},
                 "legend": {"orient": "none", "legendX": 684, "legendY": 8, "title": null, "labelFontSize": 12, "symbolSize": 32, "rowPadding": 3, "labelOffset": 6}}
     }},
    {"data": {"name": "C"}, "mark": {"type": "tick", "size": 16, "thickness": 2, "color": "#000"},
     "encoding": {"x": {"field": "grp", "type": "nominal"}, "y": {"aggregate": "mean", "field": "v", "type": "quantitative", "title": "Diastolic BP; mmHg"}}},
    {"data": {"name": "C"}, "mark": {"type": "errorbar", "extent": "stderr", "thickness": 1.5, "ticks": {"size": 8}},
     "encoding": {"x": {"field": "grp", "type": "nominal", "title": null}, "y": {"field": "v", "type": "quantitative", "title": "Diastolic BP; mmHg"}, "color": {"field": "g", "type": "nominal", "legend": null}}},
    {"data": {"values": [
       {"x1":"WT CHD","x2":"WT HFD","y1":105.54,"y2":105.54},{"x1":"WT CHD","x2":"WT CHD","y1":107.0,"y2":103.8},{"x1":"WT HFD","x2":"WT HFD","y1":107.0,"y2":103.8}]},
     "mark": {"type": "rule", "color": "#000", "strokeWidth": 1.5},
     "encoding": {"x": {"field": "x1", "type": "nominal"}, "x2": {"field": "x2"}, "y": {"field": "y1", "type": "quantitative"}, "y2": {"field": "y2"}}},
    {"data": {"values": [{"x":"WT CHD","y":106.35}]},
     "mark": {"type": "text", "text": "**", "fontSize": 12, "fontWeight": "bold", "align": "center", "baseline": "alphabetic", "dx": 12},
     "encoding": {"x": {"field": "x", "type": "nominal"}, "y": {"field": "y", "type": "quantitative"}}},
    {"data": {"values": [{"x":"WT CHD","y":111.16}]},
     "mark": {"type": "text", "text": "C", "fontSize": 14, "fontWeight": "bold", "align": "left", "baseline": "alphabetic", "dx": -78},
     "encoding": {"x": {"field": "x", "type": "nominal"}, "y": {"field": "y", "type": "quantitative"}}}
  ]},
  {"layer": [
    {"data": {"name": "D"},
     "mark": {"type": "point", "filled": true, "size": 36, "opacity": 1, "strokeWidth": 0},
     "encoding": {
       "x": {"field": "grp", "type": "nominal", "scale": {"type": "point", "domain": ["WT CHD","WT HFD","KO CHD","KO HFD"], "range": [43.3, 203], "padding": 0.72},
             "axis": {"orient": "bottom", "offset": -341.7, "labelExpr": "slice(datum.value, 3)", "title": null, "labelAngle": 0, "labelFontSize": 12}},
       "y": {"field": "v", "type": "quantitative", "title": "Mean, BP, mmHg", "scale": {"domain": [60, 110], "range": [469.3, 294.3], "nice": false, "zero": false},
             "axis": {"orient": "left", "offset": -43.3, "values": [60,70,80,90,100,110], "format": "d", "title": "Mean, BP, mmHg", "labelFontSize": 12}},
       "xOffset": {"field": "col", "type": "quantitative", "scale": {"domain": [-1, 1], "range": [-9, 9]}},
       "color": {"field": "g", "type": "nominal", "scale": {"domain": ["WT","Pdgfb-cKO"], "range": ["#000000","#0000ff"]},
                 "legend": {"orient": "none", "legendX": 96, "legendY": 296, "title": null, "labelFontSize": 12, "symbolSize": 34, "rowPadding": 3, "labelOffset": 8}},
       "shape": {"field": "g", "type": "nominal", "scale": {"domain": ["WT","Pdgfb-cKO"], "range": ["circle","triangle-up"]},
                 "legend": {"orient": "none", "legendX": 96, "legendY": 296, "title": null, "labelFontSize": 12, "symbolSize": 34, "rowPadding": 3, "labelOffset": 8}}
     }},
    {"data": {"name": "D"}, "mark": {"type": "tick", "size": 16, "thickness": 2, "color": "#000"},
     "encoding": {"x": {"field": "grp", "type": "nominal"}, "y": {"aggregate": "mean", "field": "v", "type": "quantitative", "title": "Mean, BP, mmHg"}}},
    {"data": {"name": "D"}, "mark": {"type": "errorbar", "extent": "stderr", "thickness": 1.5, "ticks": {"size": 9}},
     "encoding": {"x": {"field": "grp", "type": "nominal", "title": null}, "y": {"field": "v", "type": "quantitative", "title": "Mean, BP, mmHg"}, "color": {"field": "g", "type": "nominal", "legend": null}}},
    {"data": {"values": [{"x":"WT CHD","y":125.5}]},
     "mark": {"type": "text", "text": "D", "fontSize": 14, "fontWeight": "bold", "align": "left", "baseline": "alphabetic", "dx": -59},
     "encoding": {"x": {"field": "x", "type": "nominal"}, "y": {"field": "y", "type": "quantitative"}}}
  ]},
  {"layer": [
    {"data": {"name": "E"},
     "mark": {"type": "line", "strokeWidth": 1.3, "interpolate": "monotone"},
     "encoding": {
       "x": {"field": "s", "type": "quantitative", "title": "Strain", "scale": {"domain": [0, 3], "range": [289.3, 515.3], "nice": false, "zero": false},
             "axis": {"orient": "bottom", "offset": -341.7, "values": [0,1,2,3], "format": "d", "title": "Strain", "labelFontSize": 10.5, "titlePadding": 3}},
       "y": {"field": "t", "type": "quantitative", "title": "Stress, mN/mm²", "scale": {"domain": [0, 3000], "range": [469.3, 307.3], "nice": false, "zero": false},
             "axis": {"orient": "left", "offset": -289.3, "values": [0,500,1000,1500,2000,2500,3000], "format": "d", "title": "Stress, mN/mm²", "labelFontSize": 10.5}},
       "color": {"field": "g", "type": "nominal", "scale": {"domain": ["WT","Pdgfb-cKO"], "range": ["#000000","#0000ff"]},
                 "legend": {"orient": "none", "legendX": 296, "legendY": 312, "title": null, "labelFontSize": 12, "symbolType": "stroke", "symbolSize": 110, "symbolStrokeWidth": 1.5, "rowPadding": 5, "labelOffset": 6}},
       "detail": {"field": "id"}
     }},
    {"data": {"values": [{"x1":2.64,"x2":2.64,"y1":987,"y2":2344},{"x1":2.595,"x2":2.685,"y1":2344,"y2":2344},{"x1":2.595,"x2":2.685,"y1":987,"y2":987}]},
     "mark": {"type": "rule", "color": "#000", "strokeWidth": 1.5},
     "encoding": {"x": {"field": "x1", "type": "quantitative"}, "x2": {"field": "x2"}, "y": {"field": "y1", "type": "quantitative"}, "y2": {"field": "y2"}}},
    {"data": {"values": [{"x":2.78,"y":1654}]},
     "mark": {"type": "text", "text": "***", "fontSize": 12, "fontWeight": "bold", "angle": 90, "align": "center", "baseline": "middle"},
     "encoding": {"x": {"field": "x", "type": "quantitative"}, "y": {"field": "y", "type": "quantitative"}}},
    {"data": {"values": [{"x":-0.68,"y":4246}]},
     "mark": {"type": "text", "text": "E", "fontSize": 14, "fontWeight": "bold", "align": "left", "baseline": "alphabetic"},
     "encoding": {"x": {"field": "x", "type": "quantitative"}, "y": {"field": "y", "type": "quantitative"}}}
  ]},
  {"layer": [
    {"data": {"name": "Fc"},
     "mark": {"type": "line", "strokeWidth": 1, "interpolate": "monotone"},
     "encoding": {
       "x": {"field": "x", "type": "quantitative", "title": null, "scale": {"domain": [-10, -4], "range": [597.7, 760], "nice": false, "zero": false},
             "axis": {"orient": "bottom", "offset": -341, "values": [-10,-8,-6,-4], "format": "d", "title": null, "labelFontSize": 10}},
       "y": {"field": "y", "type": "quantitative", "title": "Constriction (% of KCl)", "scale": {"domain": [-10, 110], "range": [470, 247.5], "nice": false, "zero": false},
             "axis": {"orient": "left", "offset": -597.7, "values": [0,50,100], "format": "d", "title": "Constriction (% of KCl)", "labelFontSize": 10}},
       "color": {"field": "g", "type": "nominal", "scale": {"domain": ["WT","Pdgfb-cKO"], "range": ["#000000","#0000ff"]},
                 "legend": {"orient": "none", "legendX": 617, "legendY": 254, "title": null, "labelFontSize": 12, "symbolSize": 100, "rowPadding": 4, "labelOffset": 8, "symbolStrokeWidth": 1.5,
                            "symbolType": "M-1,0H1M-0.3,0A0.3,0.3,0,1,1,0.3,0A0.3,0.3,0,1,1,-0.3,0Z"}}
     }},
    {"data": {"values": [{"a":-10,"b":-4,"y":0}]},
     "mark": {"type": "rule", "color": "#888888", "strokeWidth": 1, "strokeDash": [2, 2]},
     "encoding": {"x": {"field": "a", "type": "quantitative"}, "x2": {"field": "b"}, "y": {"field": "y", "type": "quantitative"}}},
    {"data": {"name": "Fp"},
     "mark": {"type": "errorbar", "thickness": 1.5, "ticks": {"size": 7}},
     "encoding": {"x": {"field": "x", "type": "quantitative", "title": null}, "y": {"field": "lo", "type": "quantitative", "title": "Constriction (% of KCl)"}, "y2": {"field": "hi"}, "color": {"field": "g", "type": "nominal", "legend": null}}},
    {"data": {"name": "Fp"}, "transform": [{"filter": "datum.g === 'WT'"}],
     "mark": {"type": "point", "filled": true, "size": 16, "opacity": 1, "strokeWidth": 0, "shape": "circle"},
     "encoding": {"x": {"field": "x", "type": "quantitative"}, "y": {"field": "m", "type": "quantitative"}, "color": {"field": "g", "type": "nominal", "legend": null}}},
    {"data": {"name": "Fp"}, "transform": [{"filter": "datum.g !== 'WT'"}],
     "mark": {"type": "point", "filled": true, "size": 20, "opacity": 1, "strokeWidth": 0, "shape": "square"},
     "encoding": {"x": {"field": "x", "type": "quantitative"}, "y": {"field": "m", "type": "quantitative"}, "color": {"field": "g", "type": "nominal", "legend": null}}},
    {"data": {"values": [{"x":-4.5,"y":33.6},{"x":-4,"y":35.1}]},
     "mark": {"type": "text", "text": "**", "fontSize": 12, "fontWeight": "bold", "align": "center", "baseline": "alphabetic"},
     "encoding": {"x": {"field": "x", "type": "quantitative"}, "y": {"field": "y", "type": "quantitative"}}},
    {"data": {"values": [{"x":-11.52,"y":112.6}]},
     "mark": {"type": "text", "text": "F", "fontSize": 14, "fontWeight": "bold", "align": "left", "baseline": "alphabetic"},
     "encoding": {"x": {"field": "x", "type": "quantitative"}, "y": {"field": "y", "type": "quantitative"}}}
  ]},
  {"layer": [
    {"data": {"name": "Gc"},
     "mark": {"type": "line", "strokeWidth": 1, "interpolate": "monotone"},
     "encoding": {
       "x": {"field": "x", "type": "quantitative", "title": "Acetylcholine; log[M]", "scale": {"domain": [-10, -4], "range": [44.3, 204], "nice": false, "zero": false},
             "axis": {"orient": "bottom", "offset": -43.3, "values": [-10,-8,-6,-4], "format": "d", "title": "Acetylcholine; log[M]", "labelFontSize": 11}},
       "y": {"field": "y", "type": "quantitative", "title": "Relaxation (%)", "scale": {"domain": [-50, 200], "range": [550, 767.7], "nice": false, "zero": false},
             "axis": {"orient": "left", "offset": -44.3, "values": [-50,0,50,100,150,200], "format": "d", "title": "Relaxation (%)", "labelFontSize": 11}},
       "color": {"field": "g", "type": "nominal", "scale": {"domain": ["WT","Pdgfb-cKO"], "range": ["#000000","#0000ff"]},
                 "legend": {"orient": "none", "legendX": 71, "legendY": 726, "title": null, "labelFontSize": 12, "symbolSize": 225, "rowPadding": 4, "labelOffset": 4, "symbolStrokeWidth": 1.5,
                            "symbolType": "M-1,0H1M-0.2,0A0.2,0.2,0,1,1,0.2,0A0.2,0.2,0,1,1,-0.2,0Z"}}
     }},
    {"data": {"values": [{"a":-10,"b":-4,"y":0}]},
     "mark": {"type": "rule", "color": "#888888", "strokeWidth": 1, "strokeDash": [2, 2]},
     "encoding": {"x": {"field": "a", "type": "quantitative"}, "x2": {"field": "b"}, "y": {"field": "y", "type": "quantitative"}}},
    {"data": {"name": "Gp"},
     "mark": {"type": "errorbar", "thickness": 1.5, "ticks": {"size": 7}},
     "encoding": {"x": {"field": "x", "type": "quantitative", "title": "Acetylcholine; log[M]"}, "y": {"field": "lo", "type": "quantitative", "title": "Relaxation (%)"}, "y2": {"field": "hi"}, "color": {"field": "g", "type": "nominal", "legend": null}}},
    {"data": {"name": "Gp"}, "transform": [{"filter": "datum.g === 'WT'"}],
     "mark": {"type": "point", "filled": true, "size": 18, "opacity": 1, "strokeWidth": 0, "shape": "circle"},
     "encoding": {"x": {"field": "x", "type": "quantitative"}, "y": {"field": "m", "type": "quantitative"}, "color": {"field": "g", "type": "nominal", "legend": null}}},
    {"data": {"name": "Gp"}, "transform": [{"filter": "datum.g !== 'WT'"}],
     "mark": {"type": "point", "filled": true, "size": 22, "opacity": 1, "strokeWidth": 0, "shape": "square"},
     "encoding": {"x": {"field": "x", "type": "quantitative"}, "y": {"field": "m", "type": "quantitative"}, "color": {"field": "g", "type": "nominal", "legend": null}}},
    {"data": {"values": [{"x":-5,"y":168.9},{"x":-3.84,"y":182.2}]},
     "mark": {"type": "text", "text": "**", "fontSize": 12, "fontWeight": "bold", "align": "center", "baseline": "alphabetic"},
     "encoding": {"x": {"field": "x", "type": "quantitative"}, "y": {"field": "y", "type": "quantitative"}}},
    {"data": {"values": [{"x":-11.29,"y":-75.3}]},
     "mark": {"type": "text", "text": "G", "fontSize": 14, "fontWeight": "bold", "align": "left", "baseline": "alphabetic"},
     "encoding": {"x": {"field": "x", "type": "quantitative"}, "y": {"field": "y", "type": "quantitative"}}}
  ]},
  {"layer": [
    {"data": {"name": "Hc"},
     "mark": {"type": "line", "strokeWidth": 1, "interpolate": "monotone"},
     "encoding": {
       "x": {"field": "x", "type": "quantitative", "title": "Sodium nitroprusside; log[M]", "scale": {"domain": [-10, -4], "range": [289, 451.7], "nice": false, "zero": false},
             "axis": {"orient": "bottom", "offset": -42.7, "values": [-10,-8,-6,-4], "format": "d", "title": "Sodium nitroprusside; log[M]", "labelFontSize": 11}},
       "y": {"field": "y", "type": "quantitative", "title": "Relaxation (%)", "scale": {"domain": [-10, 150], "range": [543.2, 768.3], "nice": false, "zero": false},
             "axis": {"orient": "left", "offset": -289, "values": [0,50,100,150], "format": "d", "title": "Relaxation (%)", "labelFontSize": 11}},
       "color": {"field": "g", "type": "nominal", "scale": {"domain": ["WT","Pdgfb-cKO"], "range": ["#000000","#0000ff"]},
                 "legend": {"orient": "none", "legendX": 383, "legendY": 617, "title": null, "labelFontSize": 12, "symbolSize": 100, "rowPadding": 3, "labelOffset": 7, "symbolStrokeWidth": 1.5,
                            "symbolType": "M-1,0H1M-0.3,0A0.3,0.3,0,1,1,0.3,0A0.3,0.3,0,1,1,-0.3,0Z"}}
     }},
    {"data": {"values": [{"a":-10,"b":-4,"y":0}]},
     "mark": {"type": "rule", "color": "#888888", "strokeWidth": 1, "strokeDash": [2, 2]},
     "encoding": {"x": {"field": "a", "type": "quantitative"}, "x2": {"field": "b"}, "y": {"field": "y", "type": "quantitative"}}},
    {"data": {"name": "Hp"},
     "mark": {"type": "errorbar", "thickness": 1.5, "ticks": {"size": 7}},
     "encoding": {"x": {"field": "x", "type": "quantitative", "title": "Sodium nitroprusside; log[M]"}, "y": {"field": "lo", "type": "quantitative", "title": "Relaxation (%)"}, "y2": {"field": "hi"}, "color": {"field": "g", "type": "nominal", "legend": null}}},
    {"data": {"name": "Hp"}, "transform": [{"filter": "datum.g === 'WT'"}],
     "mark": {"type": "point", "filled": true, "size": 18, "opacity": 1, "strokeWidth": 0, "shape": "circle"},
     "encoding": {"x": {"field": "x", "type": "quantitative"}, "y": {"field": "m", "type": "quantitative"}, "color": {"field": "g", "type": "nominal", "legend": null}}},
    {"data": {"name": "Hp"}, "transform": [{"filter": "datum.g !== 'WT'"}],
     "mark": {"type": "point", "filled": true, "size": 22, "opacity": 1, "strokeWidth": 0, "shape": "square"},
     "encoding": {"x": {"field": "x", "type": "quantitative"}, "y": {"field": "m", "type": "quantitative"}, "color": {"field": "g", "type": "nominal", "legend": null}}},
    {"data": {"values": [{"x":-11.88,"y":-20.8}]},
     "mark": {"type": "text", "text": "H", "fontSize": 14, "fontWeight": "bold", "align": "left", "baseline": "alphabetic"},
     "encoding": {"x": {"field": "x", "type": "quantitative"}, "y": {"field": "y", "type": "quantitative"}}}
  ]}
],
"resolve": {"scale": {"x": "independent", "y": "independent", "color": "independent", "shape": "independent", "xOffset": "independent"},
            "axis": {"x": "independent", "y": "independent"},
            "legend": {"color": "independent", "shape": "independent"}}
}
